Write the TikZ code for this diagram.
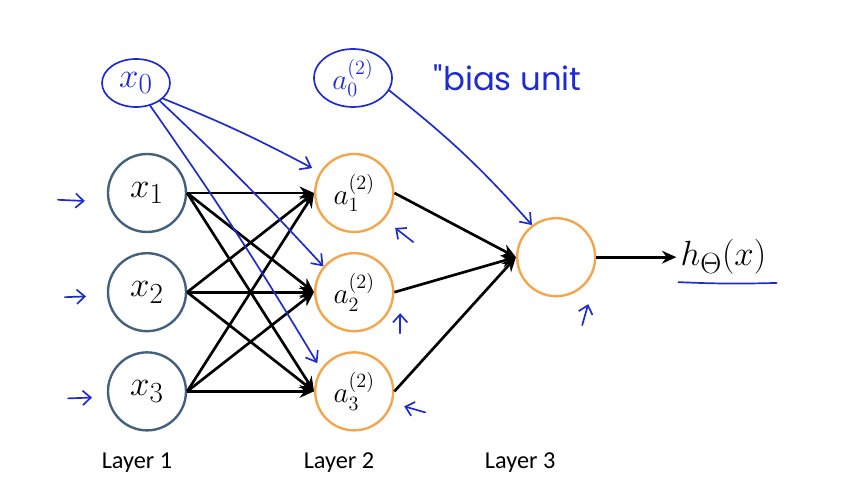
\documentclass[tikz,border=0pt]{standalone}
\usepackage{fontspec}
\usepackage{amsmath}
\usepackage{xcolor}
\usepackage{tikz}
\usetikzlibrary{arrows.meta,positioning,shapes.geometric}
\newfontfamily\layerfont{Carlito}
\newfontfamily\handfont{Poppins}
\definecolor{Ninput}{HTML}{44607F}
\definecolor{Nhidden}{HTML}{F5A54A}
\definecolor{Npen}{HTML}{1E2BD0}

\begin{document}
\begin{tikzpicture}[
  >=Stealth,
  inp/.style={circle, draw=Ninput, line width=1.7pt, minimum size=1.95cm, inner sep=0pt, font=\Huge},
  hid/.style={circle, draw=Nhidden, line width=1.7pt, minimum size=1.95cm, inner sep=0pt, font=\huge},
  conn/.style={-{Stealth[length=3.6mm,width=3.2mm]}, line width=1.9pt},
  pen/.style={draw=Npen, line width=1.2pt, line cap=round, line join=round},
  penarr/.style={pen, -{Straight Barb[length=2.4mm,width=3.6mm]}},
  tick/.style={pen, -{Straight Barb[length=2mm,width=3.6mm]}},
  blob/.style={ellipse, pen, inner sep=0pt, text=Npen, font=\Huge},
  lab/.style={font=\layerfont\LARGE},
]
\useasboundingbox (0,0) rectangle (21.125,12.35);

% ── layer 1: inputs ──────────────────────────────────────────────────
\node[inp] (x1) at (3.675,7.525) {$x_1$};
\node[inp, below=4.7mm of x1] (x2) {$x_2$};
\node[inp, below=4.7mm of x2] (x3) {$x_3$};

% ── layer 2: hidden units ────────────────────────────────────────────
\node[hid, right=31.7mm of x1] (a1) {$a^{(2)}_1$};
\node[hid, below=4.7mm of a1] (a2) {$a^{(2)}_2$};
\node[hid, below=4.7mm of a2] (a3) {$a^{(2)}_3$};

% ── layer 3: output ──────────────────────────────────────────────────
\node[hid, right=30.4mm of a2, yshift=8.75mm] (o) {};
\node[font=\Huge, inner sep=1mm, right=20mm of o] (h) {$h_\Theta(x)$};

% edges
\foreach \i in {1,2,3}
  \foreach \j in {1,2,3}
    \draw[conn] (x\i.east) -- (a\j.west);
\foreach \j in {1,2,3}
  \draw[conn] (a\j.east) -- (o.west);
\draw[conn] (o) -- (h);

% ── layer labels ─────────────────────────────────────────────────────
\node[lab] (l1) at (3.425,0.775) {Layer 1};
\node[lab] (l2) at (8.475,0.775) {Layer 2};
\node[lab, xshift=-9mm] (l3) at (l2 -| o) {Layer 3};

% ── pen notes: bias units ────────────────────────────────────────────
\node[blob, minimum width=1.7cm, minimum height=1.2cm] (x0) at (3.4,10.275) {$x_0$};
\node[blob, font=\huge, minimum width=1.95cm, minimum height=1.45cm] (a0) at (8.825,10.4) {$a^{(2)}_0$};
\node[font=\handfont\fontsize{23}{27}\selectfont, text=Npen, right=9mm of a0] (bias) {"bias unit};

\draw[penarr] (x0.-30) to[bend left=3] ([shift={(-0.18,0.12)}]a1.150);
\draw[penarr] (x0.-37) to[bend left=2] (a2.140);
\draw[penarr] (x0.-58) to[bend left=2] ([shift={(-0.12,0.1)}]a3.143);
\draw[penarr] (a0.-19) to[bend left=5] (o.127);
\draw[pen] ([shift={(0.05,-0.08)}]h.south west) to[bend right=2] ([shift={(0.15,-0.1)}]h.south east);

% little ticks at each unit
\draw[tick] ([shift={(-1.22,-0.17)}]x1.west) -- ++(0.67,-0.03);
\draw[tick] ([shift={(-1.05,-0.125)}]x2.west) -- ++(0.53,0.02);
\draw[tick] ([shift={(-0.97,-0.175)}]x3.west) -- ++(0.6,0.02);
\draw[tick] ([shift={(1.475,-1.225)}]a1.center) -- ++(-0.45,0.35);
\draw[tick] ([shift={(1.15,-1.025)}]a2.center) -- ++(0.0,0.5);
\draw[tick] ([shift={(1.775,-0.525)}]a3.center) -- ++(-0.525,0.15);
\draw[tick] ([shift={(0.65,-1.7)}]o.center) -- ++(0.15,0.525);

\end{tikzpicture}
\end{document}
